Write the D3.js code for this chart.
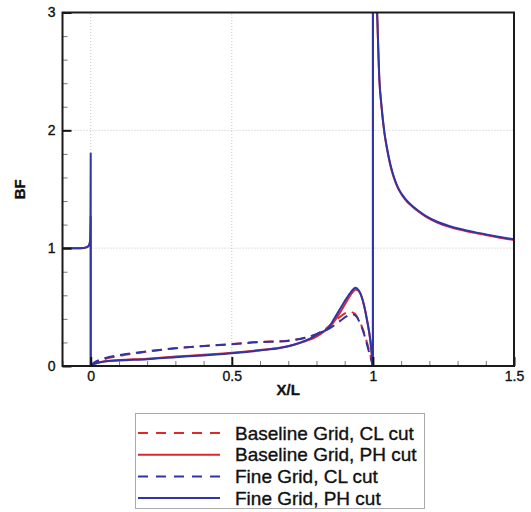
<!DOCTYPE html>
<html>
<head>
<meta charset="utf-8">
<script src="https://cdn.jsdelivr.net/npm/d3@7"></script>
<style>
body { margin: 0; background: #fff; }
text { font-family: "Liberation Sans", Arial, Helvetica, sans-serif; fill: #111; stroke: #111; stroke-width: 0.35px; }
</style>
</head>
<body>
<div id="main"></div>
<script>
// series: X/L and BF
const xBaseCL = [0, 0.01, 0.03, 0.05, 0.1, 0.19, 0.3, 0.37, 0.5, 0.6, 0.67, 0.72, 0.76, 0.8, 0.83, 0.86, 0.885, 0.905, 0.918, 0.935, 0.95, 0.965, 0.98, 0.99, 1.0]
const bfBaseCL = [0, 0.02, 0.045, 0.06, 0.085, 0.118, 0.15, 0.165, 0.187, 0.205, 0.21, 0.222, 0.24, 0.27, 0.31, 0.37, 0.42, 0.452, 0.46, 0.445, 0.39, 0.31, 0.19, 0.1, 0]

const xBasePH = [-0.1, -0.05, -0.025, -0.015, -0.008, -0.004, -0.002, -0.001, 0, 0,
  0.01, 0.03, 0.05, 0.1, 0.2, 0.3, 0.4, 0.5, 0.6, 0.67, 0.72, 0.76, 0.8, 0.83, 0.86, 0.88, 0.9, 0.92, 0.94, 0.955, 0.968, 0.98, 0.991, 1.0,
  1.0, 1.006, 1.015, 1.023, 1.03, 1.041, 1.05, 1.062, 1.075, 1.09, 1.105, 1.122, 1.14, 1.161, 1.19, 1.23, 1.27, 1.31, 1.36, 1.405, 1.45, 1.5]
const bfBasePH = [1.0, 1.0, 1.002, 1.007, 1.018, 1.035, 1.06, 1.15, 1.27, 0,
  0.017, 0.032, 0.04, 0.05, 0.062, 0.08, 0.095, 0.113, 0.136, 0.155, 0.18, 0.21, 0.25, 0.3, 0.37, 0.44, 0.52, 0.6, 0.65, 0.62, 0.52, 0.38, 0.21, 0,
  4.0, 3.6, 2.99, 2.42, 2.21, 1.97, 1.84, 1.70, 1.592, 1.503, 1.443, 1.392, 1.352, 1.312, 1.264, 1.216, 1.182, 1.156, 1.13, 1.109, 1.089, 1.069]

const xFineCL = [0, 0.01, 0.03, 0.05, 0.1, 0.19, 0.3, 0.37, 0.5, 0.6, 0.67, 0.72, 0.76, 0.8, 0.82, 0.84, 0.86, 0.885, 0.91, 0.926, 0.94, 0.955, 0.97, 0.985, 1.0]
const bfFineCL = [0, 0.025, 0.052, 0.066, 0.092, 0.122, 0.15, 0.164, 0.185, 0.203, 0.208, 0.22, 0.24, 0.27, 0.29, 0.31, 0.34, 0.385, 0.425, 0.44, 0.425, 0.36, 0.26, 0.13, 0]

const xFinePH = [-0.1, -0.05, -0.025, -0.015, -0.008, -0.004, -0.002, -0.001, 0, 0,
  0.01, 0.03, 0.05, 0.1, 0.2, 0.3, 0.4, 0.5, 0.6, 0.67, 0.72, 0.76, 0.79, 0.81, 0.83, 0.845, 0.86, 0.88, 0.9, 0.92, 0.938, 0.95, 0.967, 0.979, 0.991, 1.0,
  1.0, 1.006, 1.015, 1.023, 1.03, 1.041, 1.05, 1.062, 1.075, 1.09, 1.105, 1.122, 1.14, 1.161, 1.19, 1.23, 1.27, 1.31, 1.36, 1.405, 1.45, 1.5]
const bfFinePH = [1.0, 1.0, 1.002, 1.008, 1.02, 1.04, 1.07, 1.2, 1.81, 0,
  0.015, 0.03, 0.038, 0.046, 0.058, 0.075, 0.09, 0.108, 0.132, 0.152, 0.18, 0.215, 0.25, 0.28, 0.3, 0.33, 0.39, 0.47, 0.55, 0.62, 0.665, 0.64, 0.53, 0.39, 0.22, 0,
  4.0, 3.6, 3.0, 2.43, 2.22, 1.98, 1.85, 1.71, 1.60, 1.51, 1.45, 1.398, 1.358, 1.318, 1.27, 1.222, 1.188, 1.162, 1.136, 1.115, 1.095, 1.075]

const seriesNames = ["Baseline Grid, CL cut", "Baseline Grid, PH cut", "Fine Grid, CL cut", "Fine Grid, PH cut"]
const xMajor = [0, 0.5, 1, 1.5]
const xMajorLabels = ["0", "0.5", "1", "1.5"]
const yMajor = [0, 1, 2, 3]

const red = "#dc2a2c"
const blue = "#2f35a6"

const width = 531, height = 512
const svg = d3.select("#main").append("svg").attr("width", width).attr("height", height)

const scaleX = d3.scaleLinear().domain([-0.1, 1.5]).range([62.5, 514])
const scaleY = d3.scaleLinear().domain([0, 3]).range([366, 12.5])

const xMinor = d3.range(-0.1, 1.51, 0.1).map(v => +v.toFixed(1)).filter(v => xMajor.indexOf(v) < 0)
const yMinor = d3.range(0, 3.01, 0.2).map(v => +v.toFixed(1)).filter(v => yMajor.indexOf(v) < 0)

// grid
svg.selectAll(".gx").data([0, 0.5, 1]).enter().append("line")
  .attr("x1", d => scaleX(d)).attr("x2", d => scaleX(d))
  .attr("y1", scaleY(0)).attr("y2", scaleY(3))
  .attr("stroke", "#c4c4c4").attr("stroke-dasharray", "1,2")
svg.selectAll(".gy").data([1, 2]).enter().append("line")
  .attr("y1", d => scaleY(d)).attr("y2", d => scaleY(d))
  .attr("x1", scaleX(-0.1)).attr("x2", scaleX(1.5))
  .attr("stroke", "#c4c4c4").attr("stroke-dasharray", "1,2")

// curves
svg.append("clipPath").attr("id", "plotclip").append("rect")
  .attr("x", scaleX(-0.1)).attr("y", scaleY(3))
  .attr("width", scaleX(1.5) - scaleX(-0.1)).attr("height", scaleY(0) - scaleY(3))

const line = d3.line().x(d => scaleX(d[0])).y(d => scaleY(d[1])).curve(d3.curveMonotoneX)

// smooth runs, joined by straight vertical jumps where x repeats
function jumpPath(pts) {
  const runs = [[pts[0]]]
  for (let i = 1; i < pts.length; i++) {
    if (pts[i][0] === pts[i - 1][0]) runs.push([pts[i]])
    else runs[runs.length - 1].push(pts[i])
  }
  return runs.map((r, i) => {
    const d = r.length > 1 ? line(r) : `M${scaleX(r[0][0])},${scaleY(r[0][1])}`
    return i === 0 ? d : d.replace(/^M/, "L")
  }).join("")
}

const curves = [
  { xs: xBaseCL, ys: bfBaseCL, color: red, dash: "10,6" },
  { xs: xBasePH, ys: bfBasePH, color: red, dash: null },
  { xs: xFineCL, ys: bfFineCL, color: blue, dash: "10,6" },
  { xs: xFinePH, ys: bfFinePH, color: blue, dash: null }
]
const gc = svg.append("g").attr("clip-path", "url(#plotclip)")
curves.forEach(c => {
  gc.append("path").attr("d", jumpPath(c.xs.map((x, i) => [x, c.ys[i]])))
    .attr("fill", "none")
    .attr("stroke", c.color).attr("stroke-width", 2)
    .attr("stroke-dasharray", c.dash)
})

// axes
const axB = svg.append("g").attr("transform", `translate(0,${scaleY(0)})`)
  .call(d3.axisBottom(scaleX).tickValues(xMajor).tickFormat((d, i) => xMajorLabels[i]).tickSize(-9).tickPadding(5))
axB.select(".domain").remove()
axB.selectAll(".tick line").attr("stroke", "#111").attr("stroke-width", 2)
const axBm = svg.append("g").attr("transform", `translate(0,${scaleY(0)})`)
  .call(d3.axisBottom(scaleX).tickValues(xMinor).tickFormat("").tickSize(-5))
axBm.select(".domain").remove()
axBm.selectAll(".tick line").attr("stroke", "#777")

const axL = svg.append("g").attr("transform", `translate(${scaleX(-0.1)},0)`)
  .call(d3.axisLeft(scaleY).tickValues(yMajor).tickFormat(d3.format("d")).tickSize(-9).tickPadding(7))
axL.select(".domain").remove()
axL.selectAll(".tick line").attr("stroke", "#111").attr("stroke-width", 2)
const axLm = svg.append("g").attr("transform", `translate(${scaleX(-0.1)},0)`)
  .call(d3.axisLeft(scaleY).tickValues(yMinor).tickFormat("").tickSize(-5))
axLm.select(".domain").remove()
axLm.selectAll(".tick line").attr("stroke", "#777")

svg.selectAll(".tick text").attr("fill", "#111").style("font-size", "14px")
  .style("font-family", "'Liberation Sans', Arial, sans-serif")

// frame
svg.append("rect").attr("x", scaleX(-0.1)).attr("y", scaleY(3))
  .attr("width", scaleX(1.5) - scaleX(-0.1)).attr("height", scaleY(0) - scaleY(3))
  .attr("fill", "none").attr("stroke", "#1a1a1a").attr("stroke-width", 2)

// axis titles
svg.append("text").attr("x", (scaleX(-0.1) + scaleX(1.5)) / 2).attr("y", 395)
  .attr("text-anchor", "middle").style("font-size", "15px").style("font-weight", "bold").text("X/L")
svg.append("text").attr("transform", `translate(25,${scaleY(1.5)}) rotate(-90)`)
  .attr("text-anchor", "middle").style("font-size", "15px").style("font-weight", "bold").text("BF")

// legend
const lg = svg.append("g")
lg.append("rect").attr("x", 135.5).attr("y", 413.5).attr("width", 289).attr("height", 95)
  .attr("fill", "#fff").attr("stroke", "#aaa")
seriesNames.forEach((name, i) => {
  const yy = 433 + i * 21.7
  lg.append("line").attr("x1", 138).attr("x2", 220).attr("y1", yy).attr("y2", yy)
    .attr("stroke", curves[i].color).attr("stroke-width", 2)
    .attr("stroke-dasharray", curves[i].dash ? "10,8" : null)
  lg.append("text").attr("x", 235).attr("y", yy + 6.5).style("font-size", "19px").text(name)
})
</script>
</body>
</html>
